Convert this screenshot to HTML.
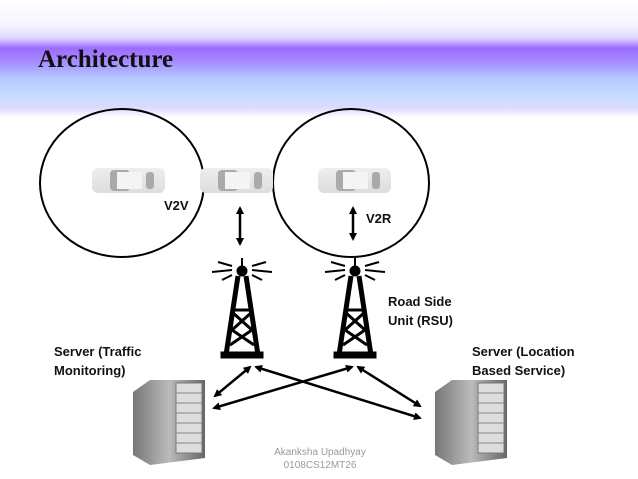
<!DOCTYPE html>
<html><head><style>
body{margin:0;width:638px;height:479px;background:#fff;overflow:hidden;position:relative;font-family:"Liberation Sans",sans-serif}
.hdr{position:absolute;left:0;top:0;width:638px;height:118px;background:linear-gradient(#fff 0px,#f4f4ff 25px,#e0d6ff 38px,#9c6cff 48px,#a58cff 62px,#b6c8ff 78px,#c2dcff 95px,#dcdcff 108px,#fff 118px)}
.t{position:absolute;left:38px;top:46px;font-family:"Liberation Serif",serif;font-weight:bold;font-size:25px;color:#111}
.lbl{position:absolute;font-weight:bold;font-size:13px;color:#111;line-height:19px}
</style></head><body>
<div class="hdr"></div>
<div class="t">Architecture</div>
<svg width="638" height="479" style="position:absolute;left:0;top:0">
<defs>
<marker id="a" markerWidth="8" markerHeight="8" refX="6" refY="4" orient="auto-start-reverse" markerUnits="userSpaceOnUse"><path d="M0,0 L8,4 L0,8 z" fill="#000"/></marker>
<linearGradient id="car" x1="0" y1="0" x2="0" y2="1"><stop offset="0" stop-color="#eee"/><stop offset="1" stop-color="#ddd"/></linearGradient>
<linearGradient id="srv" x1="0" y1="0" x2="1" y2="0"><stop offset="0" stop-color="#777"/><stop offset="0.5" stop-color="#bbb"/><stop offset="1" stop-color="#666"/></linearGradient>
</defs>
<ellipse cx="122" cy="183" rx="82" ry="74" fill="none" stroke="#000" stroke-width="2"/>
<ellipse cx="351" cy="183" rx="78" ry="74" fill="none" stroke="#000" stroke-width="2"/>
<g id="c"><rect x="92" y="168" width="73" height="25" rx="6" fill="url(#car)"/><rect x="110" y="170" width="20" height="21" rx="4" fill="#aaa"/><rect x="117" y="172" width="25" height="17" fill="#f4f4f4"/><rect x="146" y="172" width="8" height="17" rx="3" fill="#aaa"/></g>
<use href="#c" x="108"/><use href="#c" x="226"/>
<g stroke="#000" stroke-width="2.5" fill="none">
<line x1="240" y1="208" x2="240" y2="244" marker-start="url(#a)" marker-end="url(#a)"/>
<line x1="353" y1="208" x2="353" y2="239" marker-start="url(#a)" marker-end="url(#a)"/>
<line x1="250" y1="367" x2="215" y2="396" marker-start="url(#a)" marker-end="url(#a)"/>
<line x1="256" y1="367" x2="420" y2="418" marker-start="url(#a)" marker-end="url(#a)"/>
<line x1="352" y1="367" x2="214" y2="408" marker-start="url(#a)" marker-end="url(#a)"/>
<line x1="358" y1="367" x2="420" y2="406" marker-start="url(#a)" marker-end="url(#a)"/>
</g>
<g id="tw" stroke="#000" fill="none">
<circle cx="242" cy="271" r="5" fill="#000"/>
<line x1="242" y1="258" x2="242" y2="266" stroke-width="2"/>
<path d="M238,276 L226,355 M246,276 L258,355" stroke-width="5"/>
<path d="M232,312 L252,330 L230,345 M252,312 L232,330 L254,345 M233,310 L251,310" stroke-width="3"/>
<rect x="221" y="352" width="42" height="6" fill="#000"/>
<path d="M218,262 L232,266 M212,272 L232,270 M222,280 L232,275 M266,262 L252,266 M272,272 L252,270 M262,280 L252,275" stroke-width="2"/>
</g>
<use href="#tw" x="113"/>
<g id="sv"><path d="M133,392 L150,380 L205,380 L205,458 L150,465 L133,455 z" fill="url(#srv)"/><rect x="176" y="383" width="26" height="70" fill="#ddd" stroke="#777"/><g stroke="#888"><line x1="176" y1="393" x2="202" y2="393"/><line x1="176" y1="403" x2="202" y2="403"/><line x1="176" y1="413" x2="202" y2="413"/><line x1="176" y1="423" x2="202" y2="423"/><line x1="176" y1="433" x2="202" y2="433"/><line x1="176" y1="443" x2="202" y2="443"/></g></g>
<use href="#sv" x="302"/>
</svg>
<div class="lbl" style="left:164px;top:196px">V2V</div>
<div class="lbl" style="left:366px;top:209px">V2R</div>
<div class="lbl" style="left:388px;top:292px">Road Side<br>Unit (RSU)</div>
<div class="lbl" style="left:54px;top:342px">Server (Traffic<br>Monitoring)</div>
<div class="lbl" style="left:472px;top:342px">Server (Location<br>Based Service)</div>
<div style="position:absolute;left:270px;top:446px;width:100px;text-align:center;font-size:10px;color:#999;line-height:13px">Akanksha Upadhyay<br>0108CS12MT26</div>
</body></html>
